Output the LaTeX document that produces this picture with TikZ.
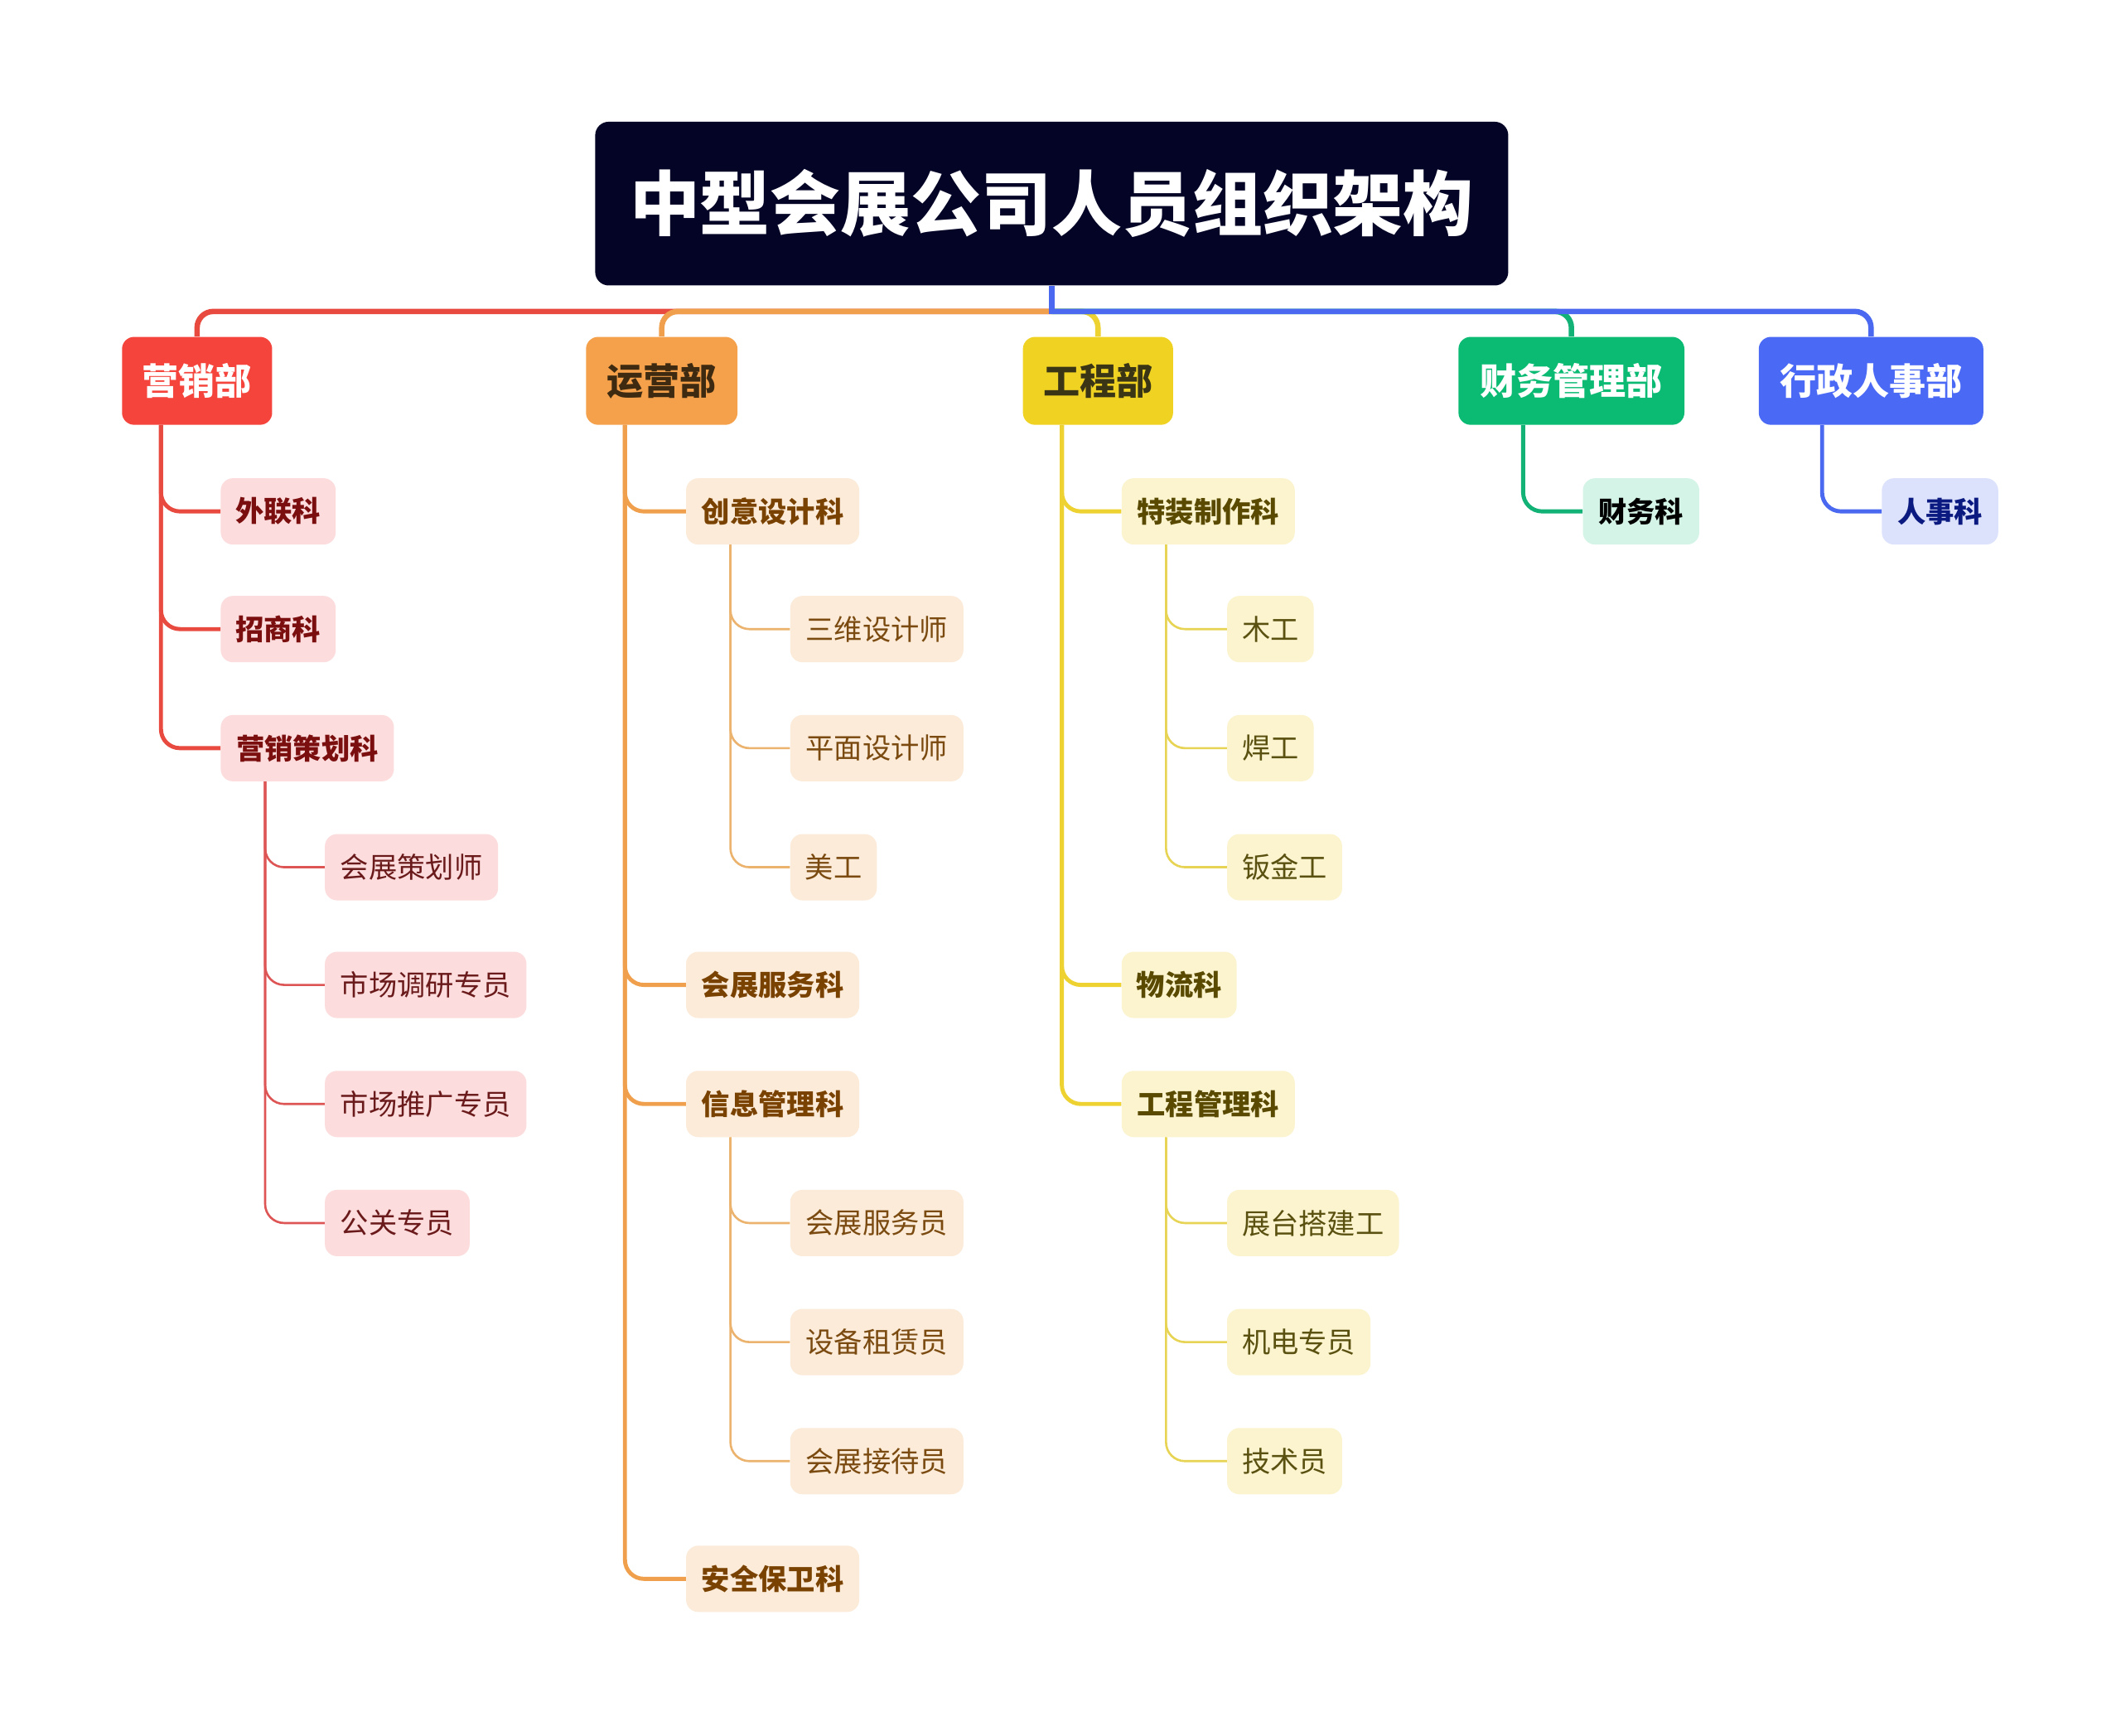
\documentclass[tikz,border=0pt]{standalone}
\usepackage{fontspec}
\setmainfont{Noto Sans CJK SC}
\definecolor{titlebg}{RGB}{3,4,38}
\definecolor{rD}{RGB}{244,68,60}\definecolor{rL}{RGB}{232,74,64}\definecolor{rF}{RGB}{252,220,220}\definecolor{rT}{RGB}{123,15,15}\definecolor{rT3}{RGB}{106,26,26}\definecolor{rL3}{RGB}{221,85,85}
\definecolor{oD}{RGB}{245,160,74}\definecolor{oL}{RGB}{240,160,76}\definecolor{oF}{RGB}{252,235,216}\definecolor{oT}{RGB}{122,66,0}\definecolor{oT3}{RGB}{122,74,16}\definecolor{oL3}{RGB}{235,179,110}\definecolor{oDT}{RGB}{61,42,16}
\definecolor{yD}{RGB}{240,210,35}\definecolor{yL}{RGB}{237,210,50}\definecolor{yF}{RGB}{251,244,207}\definecolor{yT}{RGB}{90,74,0}\definecolor{yT3}{RGB}{90,80,16}\definecolor{yL3}{RGB}{232,212,84}\definecolor{yDT}{RGB}{58,53,21}
\definecolor{gD}{RGB}{11,187,116}\definecolor{gL}{RGB}{18,178,119}\definecolor{gF}{RGB}{211,244,230}
\definecolor{bD}{RGB}{74,105,245}\definecolor{bL}{RGB}{74,105,240}\definecolor{bF}{RGB}{220,226,252}\definecolor{bT}{RGB}{10,26,128}
\begin{document}
\begin{tikzpicture}[x=1pt,y=-1pt,
  box/.style={rounded corners=9pt, inner sep=0pt, anchor=west, align=center},
  Lone/.style={box, minimum height=65pt, font=\fontsize{27}{27}\selectfont\bfseries},
  Ltwo/.style={box, minimum height=49pt, font=\fontsize{21}{21}\selectfont\bfseries},
  Lthree/.style={box, minimum height=49pt, font=\fontsize{21}{21}\selectfont},
  cone/.style={line width=4pt, rounded corners=12pt},
  ctwo/.style={line width=3pt, rounded corners=14pt},
  cthree/.style={line width=1.6pt, rounded corners=14pt}]
\useasboundingbox (0,0) rectangle (1568,1283);
\fill[white] (0,0) rectangle (1568,1283);
% title
\node[rounded corners=10pt, fill=titlebg, minimum width=675pt, minimum height=121pt, inner sep=0pt,
  text=white, font=\fontsize{52}{52}\selectfont\bfseries] (T) at (777.5,150.5) {中型会展公司人员组织架构};
\coordinate (J) at ([yshift=-19pt]T.south);
% level 1
\node[Lone, fill=rD, text=white, minimum width=111pt] (M) at (90,281.5) {营销部};
\node[Lone, fill=oD, text=oDT, minimum width=112pt] (O) at (433,281.5) {运营部};
\node[Lone, fill=yD, text=yDT, minimum width=111pt] (E) at (756,281.5) {工程部};
\node[Lone, fill=gD, text=white, minimum width=167pt] (F) at (1078,281.5) {财务管理部};
\node[Lone, fill=bD, text=white, minimum width=166pt] (H) at (1300,281.5) {行政人事部};
% top connectors
\draw[cone, rL] (J) -| (M.north);
\draw[cone, oL] (J) -| (O.north);
\draw[cone, yL] (J) -| (E.north);
\draw[cone, gL] (J) -| (F.north);
\draw[cone, bL] (J) -| (H.north);
\draw[cone, bL, rounded corners=0pt] (T.south) -- ([yshift=-2pt]J);
% marketing
\node[Ltwo, fill=rF, text=rT, minimum width=85pt] (m1) at (163,378) {外联科};
\node[Ltwo, fill=rF, text=rT, minimum width=85pt] (m2) at (163,465) {招商科};
\node[Ltwo, fill=rF, text=rT, minimum width=128pt] (m3) at (163,553) {营销策划科};
\node[Lthree, fill=rF, text=rT3, minimum width=128pt] (m31) at (240,641) {会展策划师};
\node[Lthree, fill=rF, text=rT3, minimum width=149pt] (m32) at (240,728) {市场调研专员};
\node[Lthree, fill=rF, text=rT3, minimum width=149pt] (m33) at (240,816) {市场推广专员};
\node[Lthree, fill=rF, text=rT3, minimum width=107pt] (m34) at (240,904) {公关专员};
\foreach \c in {m1,m2,m3} \draw[ctwo, rL] ([xshift=29pt]M.south west) |- (\c.west);
\foreach \c in {m31,m32,m33,m34} \draw[cthree, rL3] ([xshift=33pt]m3.south west) |- (\c.west);
% operations
\node[Ltwo, fill=oF, text=oT, minimum width=128pt] (o1) at (507,378) {创意设计科};
\node[Ltwo, fill=oF, text=oT, minimum width=128pt] (o2) at (507,728) {会展服务科};
\node[Ltwo, fill=oF, text=oT, minimum width=128pt] (o3) at (507,816) {信息管理科};
\node[Ltwo, fill=oF, text=oT, minimum width=128pt] (o4) at (507,1167) {安全保卫科};
\node[Lthree, fill=oF, text=oT3, minimum width=128pt] (o11) at (584,465) {三维设计师};
\node[Lthree, fill=oF, text=oT3, minimum width=128pt] (o12) at (584,553) {平面设计师};
\node[Lthree, fill=oF, text=oT3, minimum width=64pt] (o13) at (584,641) {美工};
\node[Lthree, fill=oF, text=oT3, minimum width=128pt] (o31) at (584,904) {会展服务员};
\node[Lthree, fill=oF, text=oT3, minimum width=128pt] (o32) at (584,992) {设备租赁员};
\node[Lthree, fill=oF, text=oT3, minimum width=128pt] (o33) at (584,1080) {会展接待员};
\foreach \c in {o1,o2,o3,o4} \draw[ctwo, oL] ([xshift=29pt]O.south west) |- (\c.west);
\foreach \c in {o11,o12,o13} \draw[cthree, oL3] ([xshift=33pt]o1.south west) |- (\c.west);
\foreach \c in {o31,o32,o33} \draw[cthree, oL3] ([xshift=33pt]o3.south west) |- (\c.west);
% engineering
\node[Ltwo, fill=yF, text=yT, minimum width=128pt] (e1) at (829,378) {特装制作科};
\node[Ltwo, fill=yF, text=yT, minimum width=85pt] (e2) at (829,728) {物流科};
\node[Ltwo, fill=yF, text=yT, minimum width=128pt] (e3) at (829,816) {工程管理科};
\node[Lthree, fill=yF, text=yT3, minimum width=64pt] (e11) at (907,465) {木工};
\node[Lthree, fill=yF, text=yT3, minimum width=64pt] (e12) at (907,553) {焊工};
\node[Lthree, fill=yF, text=yT3, minimum width=85pt] (e13) at (907,641) {钣金工};
\node[Lthree, fill=yF, text=yT3, minimum width=127pt] (e31) at (907,904) {展台搭建工};
\node[Lthree, fill=yF, text=yT3, minimum width=106pt] (e32) at (907,992) {机电专员};
\node[Lthree, fill=yF, text=yT3, minimum width=85pt] (e33) at (907,1080) {技术员};
\foreach \c in {e1,e2,e3} \draw[ctwo, yL] ([xshift=29pt]E.south west) |- (\c.west);
\foreach \c in {e11,e12,e13} \draw[cthree, yL3] ([xshift=33pt]e1.south west) |- (\c.west);
\foreach \c in {e31,e32,e33} \draw[cthree, yL3] ([xshift=33pt]e3.south west) |- (\c.west);
% finance & HR
\node[Ltwo, fill=gF, text=black, minimum width=86pt] (f1) at (1170,378) {财务科};
\node[Ltwo, fill=bF, text=bT, minimum width=86pt] (h1) at (1391,378) {人事科};
\draw[ctwo, gL] ([xshift=48pt]F.south west) |- (f1.west);
\draw[ctwo, bL] ([xshift=47pt]H.south west) |- (h1.west);
\end{tikzpicture}
\end{document}
